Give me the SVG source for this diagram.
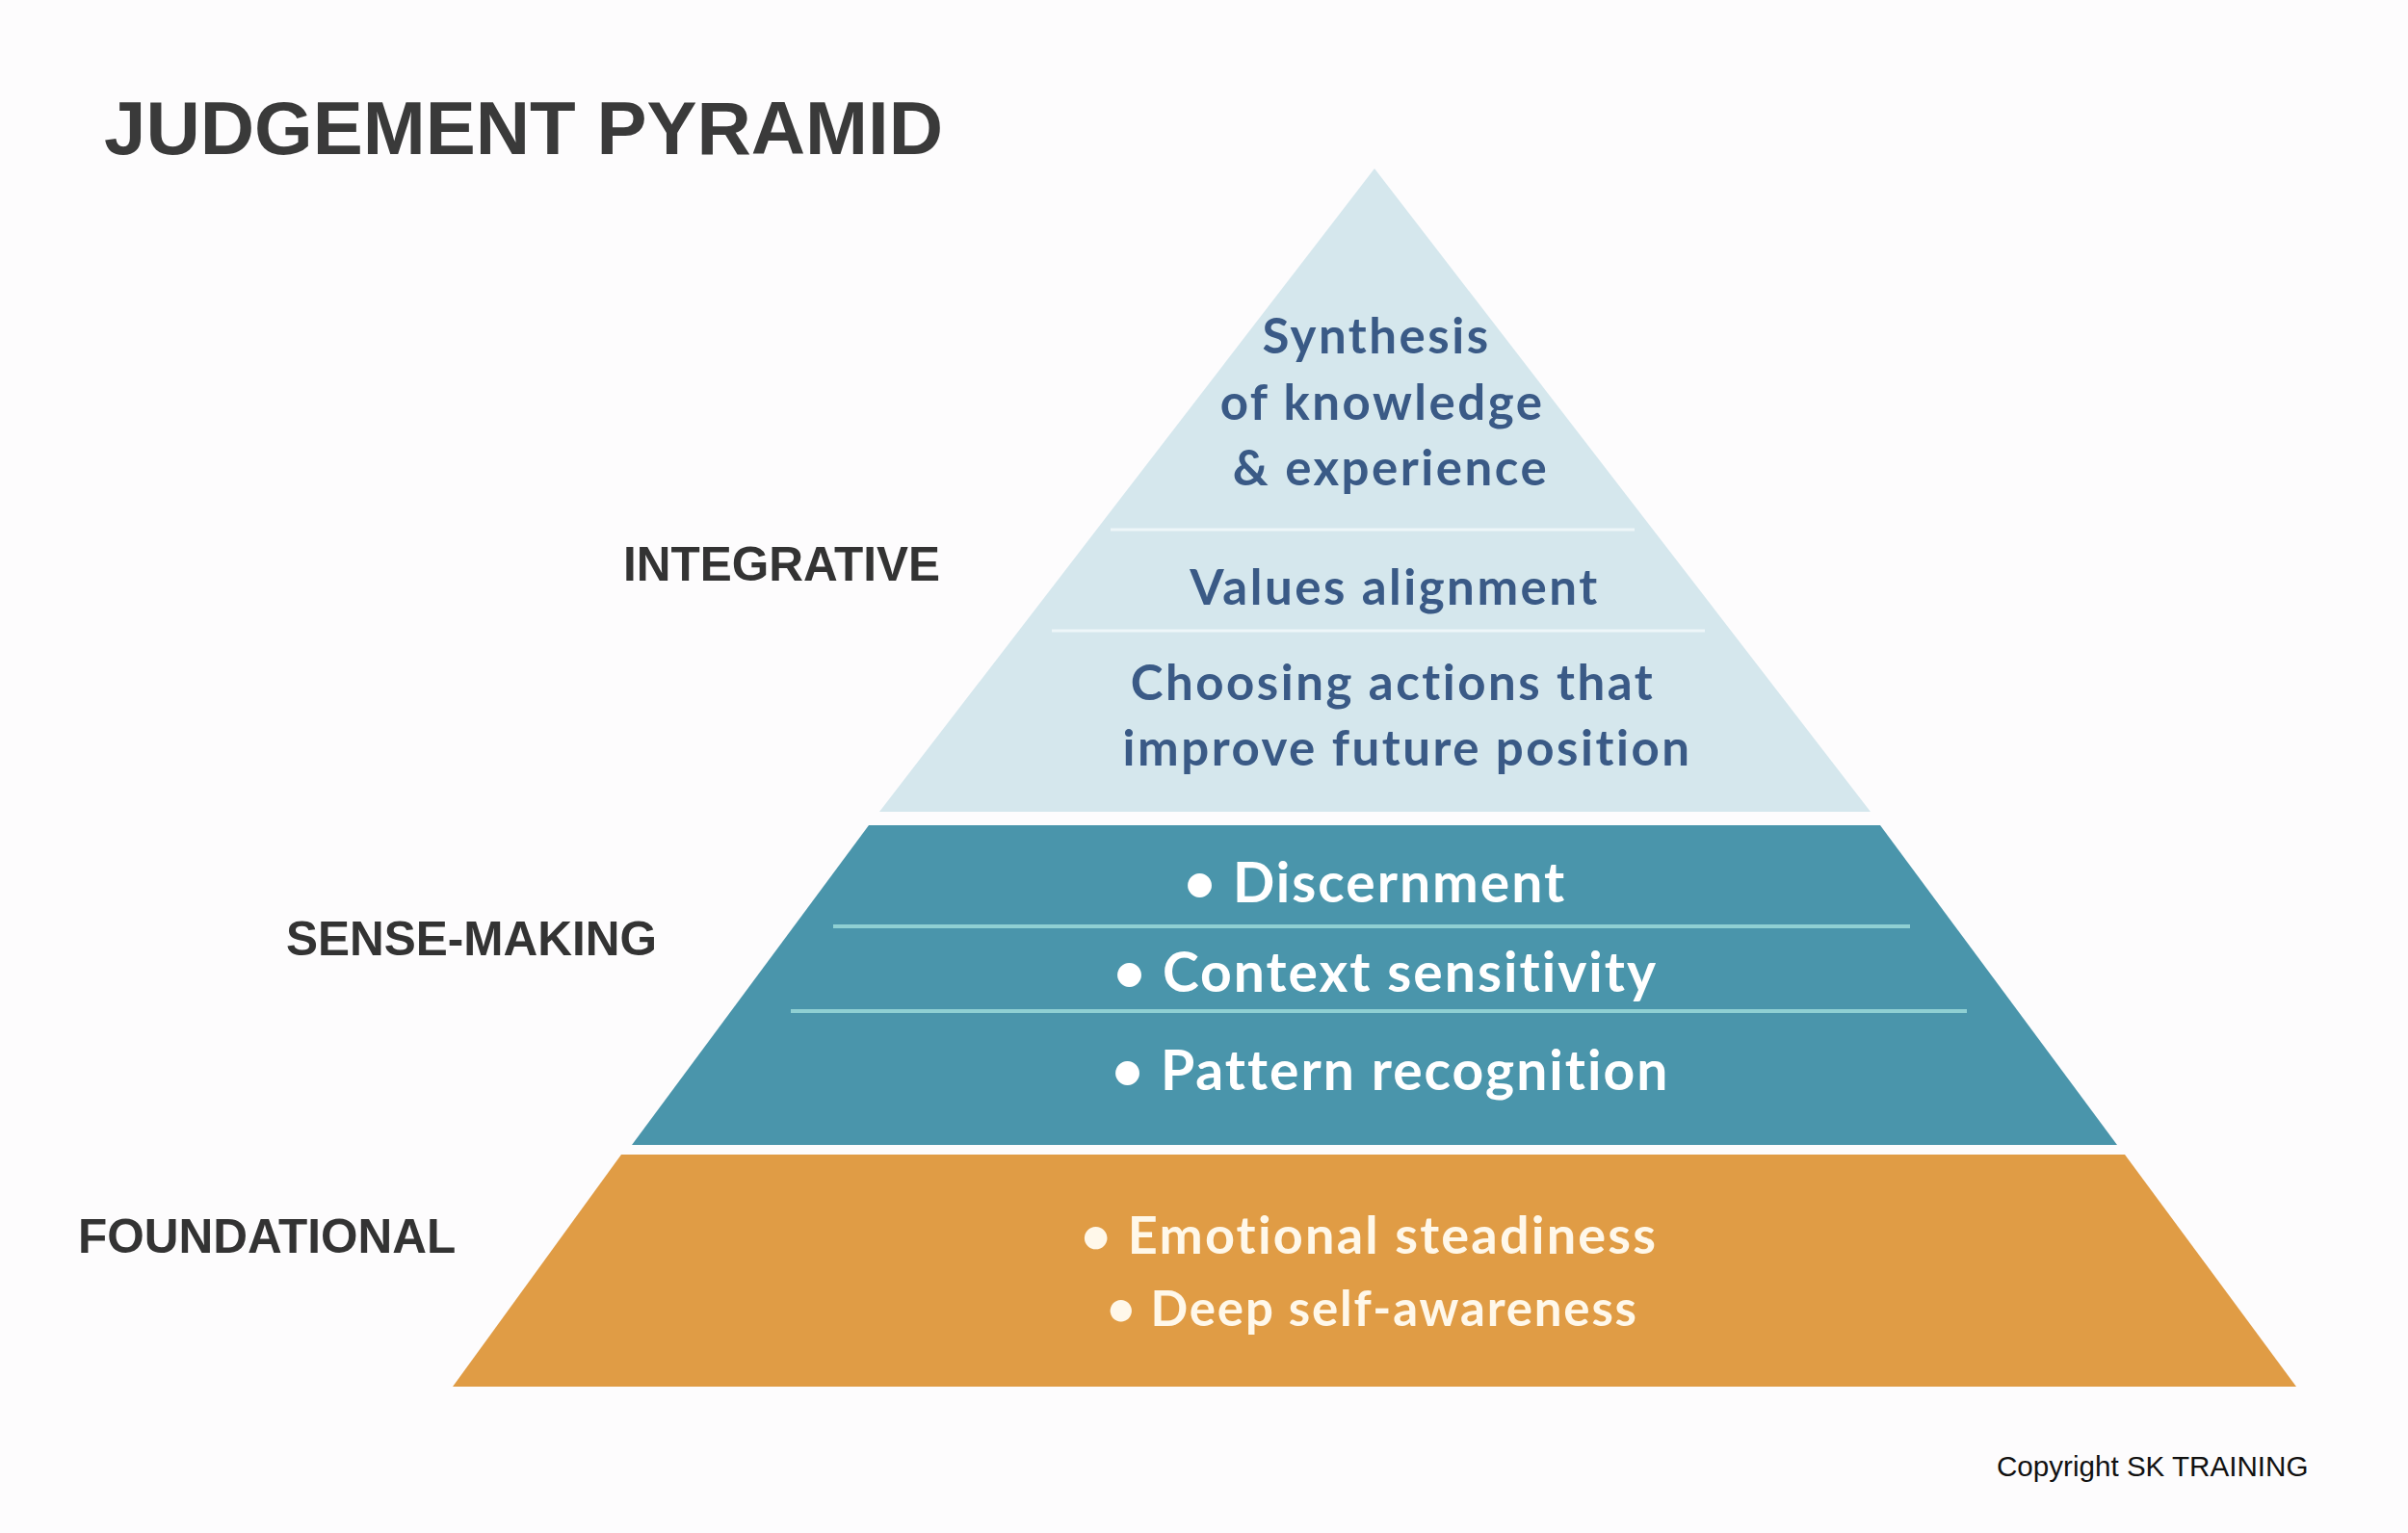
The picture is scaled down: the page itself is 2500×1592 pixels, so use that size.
<svg xmlns="http://www.w3.org/2000/svg" width="2500" height="1592" viewBox="0 0 2500 1592">
<style>
.lbl{font-family:"Liberation Sans",Arial,sans-serif;font-weight:bold;fill:#333333;font-size:49.5px}
.top{font-family:Lato,"Open Sans",sans-serif;font-weight:bold;fill:#3a5a86;text-anchor:middle;font-size:51px;letter-spacing:2.5px}
.mid{font-family:Lato,"Open Sans",sans-serif;font-weight:bold;fill:#ffffff;font-size:57px;letter-spacing:2px}
.bot{font-family:Lato,"Open Sans",sans-serif;font-weight:bold;fill:#fff8ea}
.divT{stroke:#eef6f9;stroke-width:3}
.divM{stroke:#8fd0d3;stroke-width:4}
</style>
<rect x="0" y="0" width="2500" height="1592" fill="#fdfcfd"/>
<g id="title">
<text x="108" y="160" font-family="Liberation Sans,Arial,sans-serif" font-weight="bold" font-size="78" fill="#3a3a3a">JUDGEMENT PYRAMID</text>
</g>
<g id="label-integrative"><text class="lbl" x="647" y="603">INTEGRATIVE</text></g>
<g id="label-sensemaking"><text class="lbl" x="297" y="992">SENSE-MAKING</text></g>
<g id="label-foundational"><text class="lbl" x="81" y="1301">FOUNDATIONAL</text></g>
<g id="tier-integrative">
<polygon points="1427,175 1942,843 913,843" fill="#d5e7ed"/>
<line class="divT" x1="1153" y1="550" x2="1697" y2="550"/>
<line class="divT" x1="1092" y1="655" x2="1770" y2="655"/>
<text class="top" x="1429" y="367">Synthesis</text>
<text class="top" x="1435" y="436">of knowledge</text>
<text class="top" x="1444" y="504">&amp; experience</text>
<text class="top" x="1448" y="628">Values alignment</text>
<text class="top" x="1446" y="727">Choosing actions that</text>
<text class="top" x="1461" y="795">improve future position</text>
</g>
<g id="tier-sensemaking">
<polygon points="902,857 1952,857 2198,1189 656,1189" fill="#4a95ab"/>
<line class="divM" x1="865" y1="962" x2="1983" y2="962"/>
<line class="divM" x1="821" y1="1050" x2="2042" y2="1050"/>
<text class="mid" x="1229" y="937">• Discernment</text>
<text class="mid" x="1156" y="1030">• Context sensitivity</text>
<text class="mid" x="1154" y="1132">• Pattern recognition</text>
</g>
<g id="tier-foundational">
<polygon points="645,1199 2206,1199 2384,1440 470,1440" fill="#e09c45"/>
<text class="bot" x="1122" y="1302" font-size="54" letter-spacing="2.2">• Emotional steadiness</text>
<text class="bot" x="1149" y="1377" font-size="51" letter-spacing="1.8">• Deep self-awareness</text>
</g>
<g id="copyright">
<text x="2073" y="1533" font-family="Liberation Sans,Arial,sans-serif" font-size="29.6" fill="#111111">Copyright SK TRAINING</text>
</g>
</svg>
